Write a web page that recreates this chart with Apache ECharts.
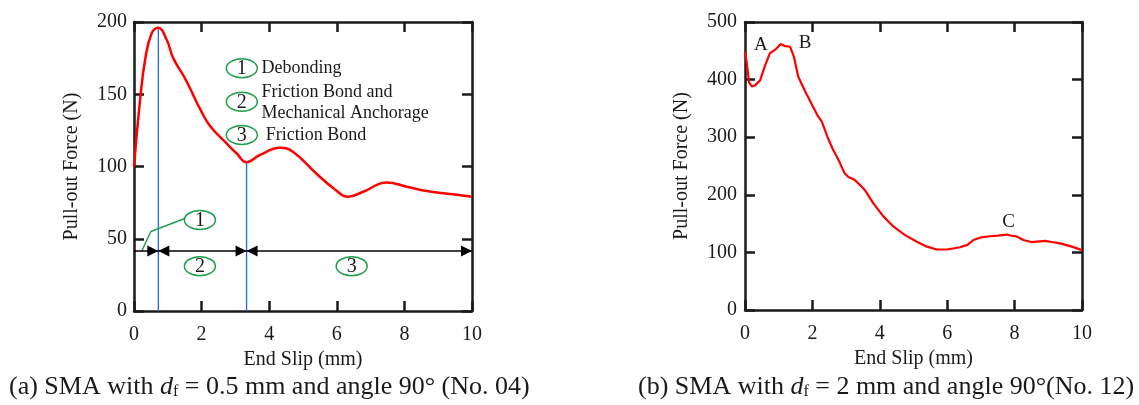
<!DOCTYPE html>
<html>
<head>
<meta charset="utf-8">
<script src="https://cdn.jsdelivr.net/npm/echarts@6/dist/echarts.min.js"></script>
<style>
  html, body { margin: 0; padding: 0; background: #fff; }
  #chart { width: 1139px; height: 405px; }
</style>
</head>
<body>
<div id="chart"></div>
<script>
// ---- Data: pull-out force vs end slip ----
// (a) SMA, df = 0.5 mm, 90 deg (No. 04)
const slipA  = [0, 0.18, 0.33, 0.52, 0.72, 0.97, 1.16, 1.46, 1.66, 1.95, 2.25, 2.74, 3.04, 3.33, 3.73, 4.32, 4.71, 5.4, 5.9, 6.34, 6.78, 7.48, 8.07, 8.66, 9.35, 10];
const forceA = [100, 146, 174, 192, 196, 187.5, 175, 163, 154, 140, 128, 116, 109, 103, 108, 113, 110, 95, 85, 79, 82.5, 89, 86, 83, 81, 79];

// stage boundaries (end slip, mm) and the force where each boundary meets the curve
const stageSlip  = [0.72, 3.33];
const stageForce = [196, 103];
const arrowForce = 41.5;
const stageLabels = ['1', '2', '3'];
const legendTexts = ['Debonding', 'Friction Bond and', 'Mechanical Anchorage', 'Friction Bond'];

// (b) SMA, df = 2 mm, 90 deg (No. 12)
const slipB  = [0, 0.05, 0.12, 0.2, 0.3, 0.45, 0.6, 0.74, 0.9, 1.06, 1.2, 1.34, 1.45, 1.58, 1.8, 2.0, 2.15, 2.28, 2.45, 2.6, 2.82, 2.95, 3.07, 3.25, 3.45, 3.56, 3.7, 3.81, 4.1, 4.4, 4.75, 5.1, 5.4, 5.69, 6.0, 6.38, 6.6, 6.78, 7.0, 7.27, 7.5, 7.77, 7.9, 8.05, 8.26, 8.5, 8.9, 9.1, 9.35, 9.7, 10];
const forceB = [448, 430, 395, 388, 390, 399, 425, 446, 452, 462, 458, 457, 440, 405, 378, 355, 338, 327, 300, 280, 255, 238, 231, 226, 215, 208, 195, 185, 163, 145, 130, 118.6, 110, 105, 105, 109, 113, 121.5, 126, 128, 129, 131, 129, 128, 121.5, 118, 120, 118, 115.7, 110, 104];
const pointLabels = ['A', 'B', 'C'];

const xTicks  = [0, 2, 4, 6, 8, 10];
const yTicksA = [0, 50, 100, 150, 200];
const yTicksB = [0, 100, 200, 300, 400, 500];

const FONT = "'Liberation Serif', 'Times New Roman', serif";
const INK = '#1a1a1a';
const RED = '#ff0000';
const BLUE = '#1a6cf0';
const GREEN = '#1fa14a';

const zip = (xs, ys) => xs.map((x, i) => [x, ys[i]]);

// frame axes: bottom/left carry labels, top/right mirror ticks only
function xAxes(gridIndex) {
  const common = {
    type: 'value', gridIndex, min: xTicks[0], max: xTicks[xTicks.length - 1], interval: 2,
    axisLine: { show: true, onZero: false, lineStyle: { color: INK, width: 2.5 } },
    axisTick: { show: true, inside: true, length: 10, lineStyle: { color: INK, width: 2.5 } },
    splitLine: { show: false }
  };
  return [
    Object.assign({}, common, {
      position: 'bottom',
      name: 'End Slip (mm)', nameLocation: 'middle', nameGap: 36,
      nameTextStyle: { fontFamily: FONT, fontSize: 20, color: INK },
      axisLabel: { margin: 14, fontFamily: FONT, fontSize: 20, color: INK }
    }),
    Object.assign({}, common, { position: 'top', axisLabel: { show: false } })
  ];
}
function yAxes(gridIndex, ticks, gap, margin) {
  const step = ticks[1] - ticks[0];
  const common = {
    type: 'value', gridIndex, min: ticks[0], max: ticks[ticks.length - 1], interval: step,
    axisLine: { show: true, onZero: false, lineStyle: { color: INK, width: 2.5 } },
    axisTick: { show: true, inside: true, length: 10, lineStyle: { color: INK, width: 2.5 } },
    splitLine: { show: false }
  };
  return [
    Object.assign({}, common, {
      position: 'left',
      name: 'Pull-out Force (N)', nameLocation: 'middle', nameGap: gap,
      nameTextStyle: { fontFamily: FONT, fontSize: 20, color: INK },
      axisLabel: { margin: margin, fontFamily: FONT, fontSize: 20, color: INK }
    }),
    Object.assign({}, common, { position: 'right', axisLabel: { show: false } })
  ];
}

// circled stage number
function ovalItem(params, api) {
  const p = api.coord([api.value(0), api.value(1)]);
  return {
    type: 'group',
    children: [
      { type: 'ellipse', shape: { cx: p[0], cy: p[1], rx: 15.5, ry: 9.5 },
        style: { fill: '#fff', stroke: GREEN, lineWidth: 1.5 } },
      { type: 'text', style: { text: String(api.value(2)), x: p[0], y: p[1] + 1,
        align: 'center', verticalAlign: 'middle', font: '20px ' + FONT, fill: INK } }
    ]
  };
}
// plain text anchored at a data position
function textItem(size, align) {
  return function (params, api) {
    const p = api.coord([api.value(0), api.value(1)]);
    return { type: 'text', style: { text: String(api.value(2)), x: p[0], y: p[1],
      align: align, verticalAlign: 'middle', font: size + 'px ' + FONT, fill: INK } };
  };
}
// horizontal dimension arrow: [fromX, toX, y, headAtFrom, headAtTo]
function arrowItem(params, api) {
  const a = api.coord([api.value(0), api.value(2)]);
  const b = api.coord([api.value(1), api.value(2)]);
  const L = 11, H = 5.5;
  const children = [{ type: 'line', shape: { x1: a[0], y1: a[1], x2: b[0], y2: b[1] },
    style: { stroke: '#000', lineWidth: 1.5 } }];
  if (api.value(3)) children.push({ type: 'polygon',
    shape: { points: [[a[0], a[1]], [a[0] + L, a[1] - H], [a[0] + L, a[1] + H]] }, style: { fill: '#000' } });
  if (api.value(4)) children.push({ type: 'polygon',
    shape: { points: [[b[0], b[1]], [b[0] - L, b[1] - H], [b[0] - L, b[1] + H]] }, style: { fill: '#000' } });
  return { type: 'group', children };
}

const xEnd = xTicks[xTicks.length - 1];

const option = {
  backgroundColor: '#fff',
  animation: false,
  grid: [
    { left: 134, top: 22, width: 338, height: 289 },
    { left: 745, top: 22, width: 337, height: 288 }
  ],
  xAxis: [...xAxes(0), ...xAxes(1)],
  yAxis: [...yAxes(0, yTicksA, 52, 7), ...yAxes(1, yTicksB, 53, 8)],
  series: [
    // stage boundary lines
    { type: 'line', xAxisIndex: 0, yAxisIndex: 0, symbol: 'none', silent: true,
      data: [[stageSlip[0], 0], [stageSlip[0], stageForce[0]]],
      lineStyle: { color: BLUE, width: 1.3 } },
    { type: 'line', xAxisIndex: 0, yAxisIndex: 0, symbol: 'none', silent: true,
      data: [[stageSlip[1], 0], [stageSlip[1], stageForce[1]]],
      lineStyle: { color: BLUE, width: 1.3 } },
    // leader from stage 1 label to the first interval
    { type: 'line', xAxisIndex: 0, yAxisIndex: 0, symbol: 'none', silent: true,
      data: [[0.23, arrowForce], [0.5, 55], [1.5, 64]],
      lineStyle: { color: GREEN, width: 1.5 } },
    // stage interval arrows
    { type: 'custom', xAxisIndex: 0, yAxisIndex: 0, renderItem: arrowItem, silent: true, z: 4,
      data: [[0, stageSlip[0], arrowForce, 0, 1],
             [stageSlip[0], stageSlip[1], arrowForce, 1, 1],
             [stageSlip[1], xEnd, arrowForce, 1, 1]] },
    // curve (a)
    { type: 'line', xAxisIndex: 0, yAxisIndex: 0, symbol: 'none', smooth: 0.45, z: 3,
      data: zip(slipA, forceA), lineStyle: { color: RED, width: 2.5 } },
    // circled numbers: on the plot and in the key
    { type: 'custom', xAxisIndex: 0, yAxisIndex: 0, renderItem: ovalItem, silent: true, z: 5,
      data: [[1.95, 63, stageLabels[0]], [1.95, 31, stageLabels[1]], [6.44, 31, stageLabels[2]],
             [3.19, 168, stageLabels[0]], [3.19, 144.8, stageLabels[1]], [3.19, 121.8, stageLabels[2]]] },
    { type: 'custom', xAxisIndex: 0, yAxisIndex: 0, renderItem: textItem(18, 'left'), silent: true, z: 5,
      data: [[3.77, 168, legendTexts[0]], [3.77, 151.6, legendTexts[1]],
             [3.77, 137, legendTexts[2]], [3.9, 121.8, legendTexts[3]]] },
    // curve (b)
    { type: 'line', xAxisIndex: 2, yAxisIndex: 2, symbol: 'none', smooth: false,
      data: zip(slipB, forceB), lineStyle: { color: RED, width: 2.2 } },
    { type: 'custom', xAxisIndex: 2, yAxisIndex: 2, renderItem: textItem(19, 'center'), silent: true,
      data: [[0.47, 460, pointLabels[0]], [1.78, 463, pointLabels[1]], [7.82, 152, pointLabels[2]]] }
  ],
  graphic: [
    { type: 'text', left: 9, top: 374,
      style: { text: '(a) SMA with {i|d}{s|f} = 0.5 mm and angle 90° (No. 04)',
        font: '26px ' + FONT, fill: INK,
        rich: { i: { fontStyle: 'italic', fontSize: 26, fontFamily: FONT, fill: INK },
                s: { fontSize: 16, fontFamily: FONT, verticalAlign: 'bottom', padding: [9, 0, 0, 0], fill: INK } } } },
    { type: 'text', left: 638, top: 374,
      style: { text: '(b) SMA with {i|d}{s|f} = 2 mm and angle 90°(No. 12)',
        font: '26px ' + FONT, fill: INK,
        rich: { i: { fontStyle: 'italic', fontSize: 26, fontFamily: FONT, fill: INK },
                s: { fontSize: 16, fontFamily: FONT, verticalAlign: 'bottom', padding: [9, 0, 0, 0], fill: INK } } } }
  ]
};

const chart = echarts.init(document.getElementById('chart'), null, { renderer: 'canvas' });
chart.setOption(option);
</script>
</body>
</html>
